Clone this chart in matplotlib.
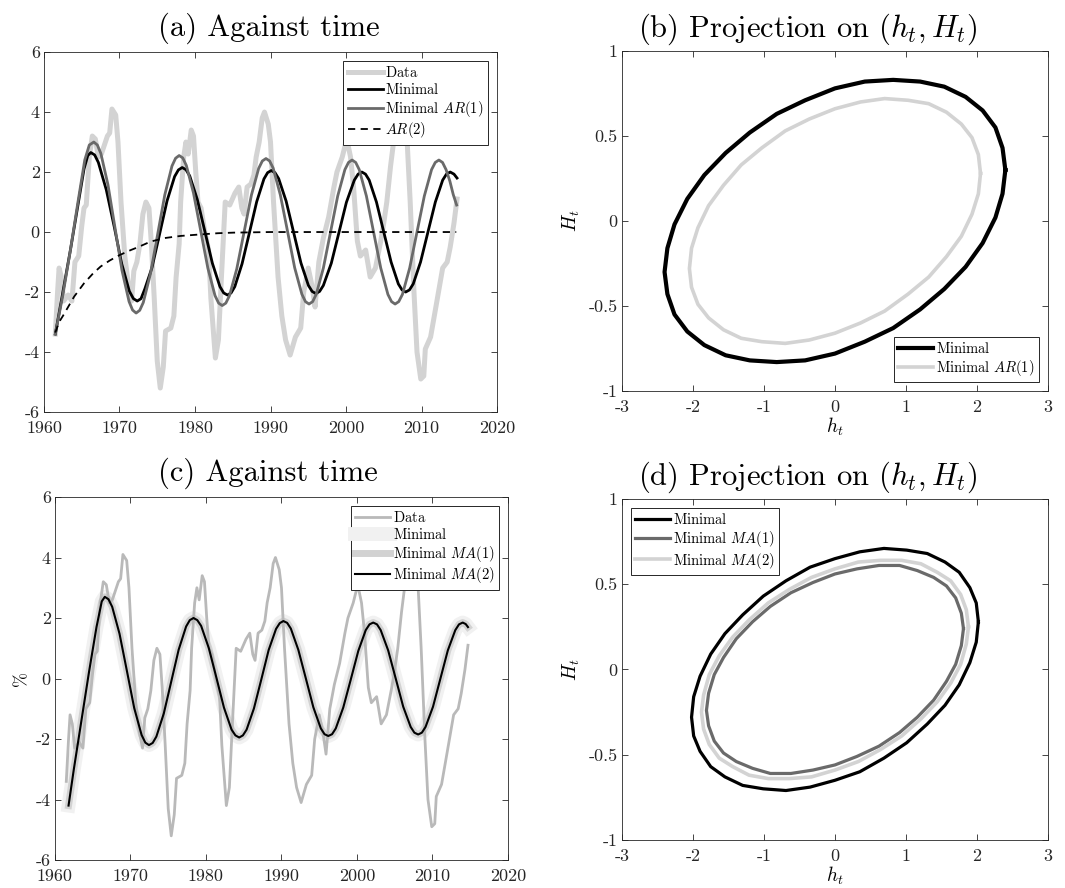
import matplotlib.pyplot as plt
from matplotlib.ticker import FuncFormatter

plt.rcParams['font.family'] = ['cmr10']
plt.rcParams['mathtext.fontset'] = 'cm'
plt.rcParams['axes.unicode_minus'] = False
plt.rcParams['axes.formatter.use_mathtext'] = False

# ---- data ----
data_t = [1961.5, 1961.8, 1962.0, 1962.3, 1962.6, 1963.2, 1963.7, 1964.1, 1964.6, 1965.0,
          1965.3, 1965.6, 1966.0, 1966.4, 1966.8, 1967.2, 1967.6, 1968.0, 1968.4, 1968.7,
          1969.0, 1969.5, 1969.8, 1970.2, 1970.7, 1971.2, 1971.6, 1971.9, 1972.3, 1972.7,
          1973.1, 1973.5, 1973.9, 1974.2, 1974.6, 1975.0, 1975.4, 1975.8, 1976.1, 1976.8,
          1977.2, 1977.5, 1977.9, 1978.1, 1978.5, 1978.8, 1979.1, 1979.5, 1979.8, 1980.1,
          1980.4, 1980.8, 1981.3, 1981.8, 1982.1, 1982.7, 1983.1, 1983.5, 1984.0, 1984.6,
          1985.3, 1985.8, 1986.2, 1986.5, 1986.9, 1987.4, 1987.8, 1988.1, 1988.5, 1988.9,
          1989.2, 1989.7, 1990.0, 1990.4, 1991.0, 1991.5, 1992.0, 1992.6, 1993.3, 1994.0,
          1994.4, 1995.0, 1995.5, 1995.9, 1996.4, 1997.0, 1997.7, 1998.4, 1998.8, 1999.5,
          2000.1, 2000.6, 2001.0, 2001.5, 2001.9, 2002.6, 2003.2, 2003.9, 2004.6, 2005.0,
          2005.4, 2005.9, 2006.3, 2007.0, 2007.6, 2008.1, 2008.5, 2009.0, 2009.4, 2009.9,
          2010.3, 2010.5, 2011.2, 2011.9, 2012.8, 2013.4, 2013.8, 2014.3, 2014.7]
data_y = [-3.4, -2.0, -1.2, -1.5, -2.3, -2.1, -2.3, -1.0, -0.8, 0.2,
          0.8, 0.9, 2.5, 3.2, 3.1, 2.5, 2.6, 2.9, 3.2, 3.3,
          4.1, 3.9, 3.0, 1.0, -0.8, -1.8, -2.3, -1.3, -1.0, -0.4,
          0.6, 1.0, 0.8, -0.3, -2.2, -4.3, -5.2, -4.5, -3.3, -3.2,
          -2.8, -1.5, -0.4, 1.0, 2.5, 3.0, 2.6, 3.4, 3.2, 2.0,
          1.0, 0.8, 0.0, -0.6, -2.2, -4.2, -3.6, -1.5, 1.0, 0.9,
          1.3, 1.5, 0.8, 0.6, 1.5, 1.6, 1.9, 2.5, 3.0, 3.8,
          4.0, 3.6, 3.0, 1.0, -1.5, -2.8, -3.6, -4.1, -3.5, -3.2,
          -2.0, -1.2, -1.8, -2.5, -1.0, -0.2, 0.5, 1.5, 2.0, 2.5,
          3.1, 2.5, 1.5, -0.3, -0.8, -0.6, -1.5, -1.2, -0.3, 0.3,
          1.0, 2.2, 3.0, 3.4, 3.3, 3.0, 1.0, -2.0, -4.0, -4.9,
          -4.8, -3.9, -3.5, -2.5, -1.2, -1.0, -0.5, 0.3, 1.1]

# (a) model paths
min_t = [1961.5, 1962.5, 1963.5, 1964.5, 1965.3, 1965.8, 1966.2,
         1966.71, 1967.2, 1968.25, 1969.3, 1970.3, 1971.3, 1971.84, 1972.35,
         1972.85, 1973.35, 1974.3, 1975.3, 1976.3, 1977.3, 1977.8, 1978.3,
         1978.8, 1979.3, 1980.3, 1981.3, 1982.3, 1983.3, 1983.8, 1984.3,
         1984.78, 1985.27, 1986.23, 1987.2, 1988.17, 1989.13, 1989.62, 1990.1,
         1990.59, 1991.08, 1992.07, 1993.05, 1994.03, 1995.02, 1995.51, 1996.0,
         1996.5, 1997.0, 1998.05, 1999.05, 2000.05, 2001.1, 2001.6, 2002.1,
         2002.58, 2003.07, 2004.03, 2005.0, 2005.97, 2006.93, 2007.42, 2007.9,
         2008.4, 2008.9, 2009.87, 2010.85, 2011.83, 2012.8, 2013.3, 2013.8,
         2014.3, 2014.7]
min_y = [-3.4, -2.0, -0.6, 0.9, 2.1, 2.55, 2.65,
         2.57, 2.32, 1.41, 0.18, -1.06, -1.97, -2.22, -2.3,
         -2.22, -1.9, -1.19, -0.08, 1.04, 1.85, 2.07, 2.15,
         2.08, 1.87, 1.09, 0.03, -1.04, -1.82, -2.03, -2.1,
         -2.03, -1.82, -1.06, -0.03, 1.01, 1.77, 1.98, 2.05,
         1.98, 1.78, 1.03, 0.0, -1.03, -1.78, -1.98, -2.05,
         -1.98, -1.78, -1.04, -0.03, 0.99, 1.73, 1.93, 2.0,
         1.93, 1.73, 1.0, 0.0, -1.0, -1.73, -1.93, -2.0,
         -1.93, -1.73, -1.0, 0.0, 1.0, 1.73, 1.93, 2.0,
         1.93, 1.8]

ar1_t = [1961.5, 1962.5, 1963.5, 1964.5, 1965.4, 1966.0, 1966.6,
         1967.07, 1967.53, 1968.47, 1969.4, 1970.33, 1971.27, 1971.73, 1972.2,
         1972.68, 1973.15, 1974.1, 1975.05, 1976.0, 1976.95, 1977.43, 1977.9,
         1978.38, 1978.85, 1979.8, 1980.75, 1981.7, 1982.65, 1983.13, 1983.6,
         1984.08, 1984.57, 1985.53, 1986.5, 1987.47, 1988.43, 1988.92, 1989.4,
         1989.88, 1990.35, 1991.3, 1992.25, 1993.2, 1994.15, 1994.63, 1995.1,
         1995.58, 1996.05, 1997.0, 1997.95, 1998.9, 1999.85, 2000.33, 2000.8,
         2001.28, 2001.75, 2002.7, 2003.65, 2004.6, 2005.55, 2006.03, 2006.5,
         2006.98, 2007.47, 2008.43, 2009.4, 2010.37, 2011.33, 2011.82, 2012.3,
         2012.78, 2013.25, 2013.75, 2014.2, 2014.65]
ar1_y = [-3.4, -2.1, -0.6, 1.0, 2.4, 2.9, 3.0,
         2.9, 2.62, 1.58, 0.15, -1.28, -2.32, -2.6, -2.7,
         -2.61, -2.35, -1.39, -0.08, 1.24, 2.2, 2.46, 2.55,
         2.47, 2.22, 1.3, 0.05, -1.2, -2.12, -2.37, -2.45,
         -2.37, -2.12, -1.23, 0.0, 1.23, 2.12, 2.37, 2.45,
         2.37, 2.13, 1.24, 0.03, -1.19, -2.07, -2.32, -2.4,
         -2.32, -2.08, -1.2, 0.0, 1.2, 2.08, 2.32, 2.4,
         2.32, 2.08, 1.2, 0.0, -1.2, -2.08, -2.32, -2.4,
         -2.32, -2.08, -1.2, 0.0, 1.2, 2.08, 2.32, 2.4,
         2.32, 2.08, 1.7, 1.25, 0.9]

ar2_t = [1961.5, 1962.0, 1962.5, 1963.1, 1964.0, 1965.3, 1966.5, 1967.5, 1968.7, 1970.0,
         1971.5, 1972.5, 1974.1, 1976.0, 1978.1, 1980.7, 1983.0, 1985.1, 1990.0, 2000.0, 2014.6]
ar2_y = [-3.35, -3.0, -2.8, -2.54, -2.15, -1.71, -1.38, -1.15, -0.95, -0.77,
         -0.6, -0.5, -0.32, -0.2, -0.13, -0.08, -0.04, -0.02, 0.0, 0.0, 0.0]

# (c) model paths (the three nearly coincide)
ma2_t = [1961.8, 1962.5, 1963.5, 1964.5, 1965.5, 1966.2, 1966.6,
         1967.09, 1967.58, 1968.55, 1969.53, 1970.5, 1971.48, 1971.97, 1972.45,
         1972.94, 1973.43, 1974.42, 1975.4, 1976.38, 1977.37, 1977.86, 1978.35,
         1978.85, 1979.36, 1980.37, 1981.38, 1982.38, 1983.39, 1983.9, 1984.4,
         1984.89, 1985.38, 1986.35, 1987.33, 1988.3, 1989.28, 1989.77, 1990.25,
         1990.75, 1991.24, 1992.23, 1993.23, 1994.22, 1995.21, 1995.7, 1996.2,
         1996.7, 1997.19, 1998.18, 1999.18, 2000.17, 2001.16, 2001.66, 2002.15,
         2002.65, 2003.14, 2004.13, 2005.13, 2006.12, 2007.11, 2007.6, 2008.1,
         2008.59, 2009.08, 2010.07, 2011.05, 2012.03, 2013.02, 2013.51, 2014.0,
         2014.4, 2014.7]
ma2_y = [-4.2, -3.0, -1.4, 0.2, 1.7, 2.55, 2.7,
         2.62, 2.37, 1.48, 0.25, -0.98, -1.87, -2.12, -2.2,
         -2.13, -1.92, -1.15, -0.1, 0.95, 1.72, 1.93, 2.0,
         1.93, 1.74, 1.01, 0.03, -0.96, -1.69, -1.88, -1.95,
         -1.88, -1.69, -0.99, -0.03, 0.94, 1.64, 1.83, 1.9,
         1.84, 1.65, 0.95, 0.0, -0.95, -1.65, -1.84, -1.9,
         -1.84, -1.65, -0.96, -0.03, 0.91, 1.6, 1.79, 1.85,
         1.79, 1.6, 0.93, 0.0, -0.93, -1.6, -1.79, -1.85,
         -1.79, -1.6, -0.93, 0.0, 0.93, 1.6, 1.79, 1.85,
         1.8, 1.7]
ma1_t, ma1_y = ma2_t, ma2_y
minc_t, minc_y = ma2_t, ma2_y

# (b) projections
pb_min_h = [2.40, 2.36, 2.26, 2.08, 1.84, 1.54, 1.20, 0.82, 0.42, 0.0, -0.42, -0.82,
            -1.20, -1.54, -1.84, -2.08, -2.26, -2.36, -2.40, -2.36, -2.26, -2.08, -1.84, -1.54,
            -1.20, -0.82, -0.42, 0.0, 0.42, 0.82, 1.20, 1.54, 1.84, 2.08, 2.26, 2.36, 2.40]
pb_min_H = [0.30, 0.43, 0.55, 0.65, 0.73, 0.79, 0.82, 0.83, 0.82, 0.78, 0.71, 0.63,
            0.52, 0.40, 0.27, 0.13, -0.02, -0.16, -0.30, -0.43, -0.55, -0.65, -0.73, -0.79,
            -0.82, -0.83, -0.82, -0.78, -0.71, -0.63, -0.52, -0.40, -0.27, -0.13, 0.02, 0.16, 0.30]
pb_ar1_h = [2.05, 2.02, 1.93, 1.78, 1.57, 1.32, 1.03, 0.70, 0.36, 0.0, -0.36, -0.70,
            -1.03, -1.32, -1.57, -1.78, -1.93, -2.02, -2.05, -2.02, -1.93, -1.78, -1.57, -1.32,
            -1.03, -0.70, -0.36, 0.0, 0.36, 0.70, 1.03, 1.32, 1.57, 1.78, 1.93, 2.02, 2.05]
pb_ar1_H = [0.28, 0.39, 0.49, 0.57, 0.64, 0.69, 0.71, 0.72, 0.70, 0.66, 0.60, 0.53,
            0.43, 0.33, 0.21, 0.09, -0.04, -0.16, -0.28, -0.39, -0.49, -0.57, -0.64, -0.69,
            -0.71, -0.72, -0.70, -0.66, -0.60, -0.53, -0.43, -0.33, -0.21, -0.09, 0.04, 0.16, 0.28]

# (d) projections
pd_min_h = [2.02, 1.99, 1.90, 1.75, 1.55, 1.30, 1.01, 0.69, 0.35, 0.0, -0.35, -0.69,
            -1.01, -1.30, -1.55, -1.75, -1.90, -1.99, -2.02, -1.99, -1.90, -1.75, -1.55, -1.30,
            -1.01, -0.69, -0.35, 0.0, 0.35, 0.69, 1.01, 1.30, 1.55, 1.75, 1.90, 1.99, 2.02]
pd_min_H = [0.28, 0.39, 0.48, 0.57, 0.63, 0.68, 0.70, 0.71, 0.69, 0.65, 0.60, 0.52,
            0.43, 0.32, 0.21, 0.09, -0.04, -0.16, -0.28, -0.39, -0.48, -0.57, -0.63, -0.68,
            -0.70, -0.71, -0.69, -0.65, -0.60, -0.52, -0.43, -0.32, -0.21, -0.09, 0.04, 0.16, 0.28]
pd_ma1_h = [1.81, 1.78, 1.70, 1.57, 1.39, 1.16, 0.91, 0.62, 0.31, 0.0, -0.31, -0.62,
            -0.91, -1.16, -1.39, -1.57, -1.70, -1.78, -1.81, -1.78, -1.70, -1.57, -1.39, -1.16,
            -0.91, -0.62, -0.31, 0.0, 0.31, 0.62, 0.91, 1.16, 1.39, 1.57, 1.70, 1.78, 1.81]
pd_ma1_H = [0.24, 0.33, 0.42, 0.49, 0.54, 0.58, 0.61, 0.61, 0.59, 0.56, 0.51, 0.45,
            0.37, 0.28, 0.18, 0.07, -0.03, -0.14, -0.24, -0.33, -0.42, -0.49, -0.54, -0.58,
            -0.61, -0.61, -0.59, -0.56, -0.51, -0.45, -0.37, -0.28, -0.18, -0.07, 0.03, 0.14, 0.24]
pd_ma2_h = [1.88, 1.85, 1.77, 1.63, 1.44, 1.21, 0.94, 0.64, 0.33, 0.0, -0.33, -0.64,
            -0.94, -1.21, -1.44, -1.63, -1.77, -1.85, -1.88, -1.85, -1.77, -1.63, -1.44, -1.21,
            -0.94, -0.64, -0.33, 0.0, 0.33, 0.64, 0.94, 1.21, 1.44, 1.63, 1.77, 1.85, 1.88]
pd_ma2_H = [0.25, 0.35, 0.44, 0.52, 0.57, 0.62, 0.64, 0.64, 0.63, 0.59, 0.54, 0.47,
            0.39, 0.29, 0.19, 0.08, -0.03, -0.15, -0.25, -0.35, -0.44, -0.52, -0.57, -0.62,
            -0.64, -0.64, -0.63, -0.59, -0.54, -0.47, -0.39, -0.29, -0.19, -0.08, 0.03, 0.15, 0.25]

AX = '#262626'
fmt = FuncFormatter(lambda v, p: '%g' % v)

# legend labels written fully in mathtext so roman and italic parts match in size
LBL_MIN = r'$\mathrm{Minimal}$'
LBL_AR1 = r'$\mathrm{Minimal}\ AR(1)$'
LBL_AR2 = r'$AR(2)$'
LBL_MA1 = r'$\mathrm{Minimal}\ MA(1)$'
LBL_MA2 = r'$\mathrm{Minimal}\ MA(2)$'


def style(ax):
    for s in ax.spines.values():
        s.set_color(AX)
        s.set_linewidth(0.6)
    ax.tick_params(direction='in', top=True, right=True, length=4, width=0.6,
                   colors=AX, labelsize=13)
    ax.tick_params(axis='x', pad=6.5)
    ax.tick_params(axis='y', pad=3)
    ax.xaxis.set_major_formatter(fmt)
    ax.yaxis.set_major_formatter(fmt)


def leg(ax, loc):
    lg = ax.legend(loc=loc, fontsize=10.5, fancybox=False, framealpha=1, edgecolor=AX,
                   borderpad=0.3, handlelength=2.4, handletextpad=0.2,
                   labelspacing=0.12, borderaxespad=0.6)
    lg.get_frame().set_linewidth(0.7)


fig = plt.figure(figsize=(10.65, 8.88), dpi=100)

# (a)
ax = fig.add_axes([0.0413, 0.536, 0.4254, 0.4054])
ax.plot(data_t, data_y, color='#d3d3d3', lw=3.6, label=r'$\mathrm{Data}$')
ax.plot(min_t, min_y, color='black', lw=2.0, label=LBL_MIN)
ax.plot(ar1_t, ar1_y, color='#6a6a6a', lw=2.0, label=LBL_AR1)
ax.plot(ar2_t, ar2_y, color='black', lw=1.3, ls=(0, (4, 3)), label=LBL_AR2)
ax.set_xlim(1960, 2020)
ax.set_ylim(-6, 6)
ax.set_xticks(range(1960, 2021, 10))
ax.set_yticks(range(-6, 7, 2))
style(ax)
leg(ax, 'upper right')
ax.set_title('(a) Against time', fontsize=22, pad=12, x=0.497)

# (b)
ax = fig.add_axes([0.584, 0.5597, 0.4, 0.3829])
ax.plot(pb_min_h, pb_min_H, color='black', lw=3.0, label=LBL_MIN)
ax.plot(pb_ar1_h, pb_ar1_H, color='#d3d3d3', lw=2.6, label=LBL_AR1)
ax.set_xlim(-3, 3)
ax.set_ylim(-1, 1)
ax.set_xticks(range(-3, 4))
ax.set_yticks([-1, -0.5, 0, 0.5, 1])
style(ax)
leg(ax, 'lower right')
ax.set_xlabel('$h_t$', fontsize=14, labelpad=0)
ax.set_ylabel('$H_t$', fontsize=14, labelpad=5)
ax.set_title('(b) Projection on $(h_t, H_t)$', fontsize=22, pad=10, x=0.437)

# (c)
ax = fig.add_axes([0.0516, 0.0315, 0.4254, 0.4088])
ax.plot(data_t, data_y, color='#b9b9b9', lw=2.0, label=r'$\mathrm{Data}$', zorder=3)
ax.plot(minc_t, minc_y, color='#f1f1f1', lw=10, label=LBL_MIN, zorder=1)
ax.plot(ma1_t, ma1_y, color='#d2d2d2', lw=5, label=LBL_MA1, zorder=2)
ax.plot(ma2_t, ma2_y, color='black', lw=1.5, label=LBL_MA2, zorder=4)
ax.set_xlim(1960, 2020)
ax.set_ylim(-6, 6)
ax.set_xticks(range(1960, 2021, 10))
ax.set_yticks(range(-6, 7, 2))
style(ax)
leg(ax, 'upper right')
ax.set_ylabel('%', fontsize=13, labelpad=5)
ax.set_title('(c) Against time', fontsize=22, pad=12, x=0.47)

# (d)
ax = fig.add_axes([0.584, 0.0541, 0.4, 0.384])
ax.plot(pd_min_h, pd_min_H, color='black', lw=2.3, label=LBL_MIN)
ax.plot(pd_ma1_h, pd_ma1_H, color='#6a6a6a', lw=2.3, label=LBL_MA1)
ax.plot(pd_ma2_h, pd_ma2_H, color='#d3d3d3', lw=2.6, label=LBL_MA2)
ax.set_xlim(-3, 3)
ax.set_ylim(-1, 1)
ax.set_xticks(range(-3, 4))
ax.set_yticks([-1, -0.5, 0, 0.5, 1])
style(ax)
leg(ax, 'upper left')
ax.set_xlabel('$h_t$', fontsize=14, labelpad=0)
ax.set_ylabel('$H_t$', fontsize=14, labelpad=5)
ax.set_title('(d) Projection on $(h_t, H_t)$', fontsize=22, pad=10, x=0.437)

fig.savefig('out.png', dpi=100)
